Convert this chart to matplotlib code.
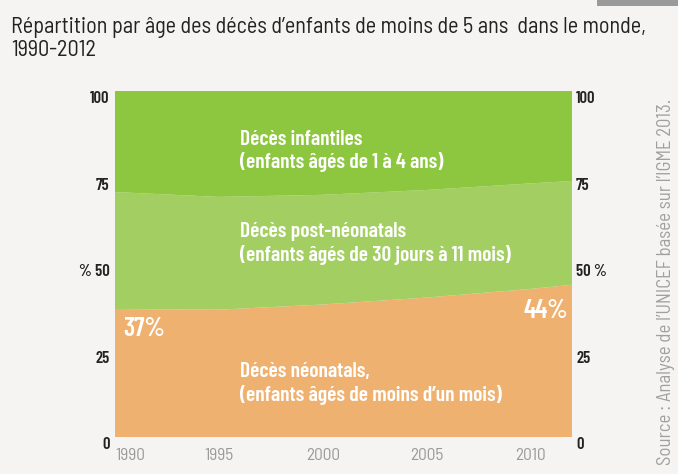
import matplotlib.pyplot as plt
from matplotlib.patches import Rectangle

plt.rcParams['font.family'] = ['Barlow Condensed', 'DejaVu Sans']
semi = ['Barlow Semi Condensed', 'DejaVu Sans']

years = [1990, 1995, 2000, 2005, 2010, 2012]
neonatal = [37.0, 36.8, 38.3, 40.3, 42.8, 44.0]
post_neonatal = [33.8, 32.6, 31.7, 31.1, 30.5, 30.0]
infant = [29.2, 30.6, 30.0, 28.6, 26.7, 26.0]

yticks = [0, 25, 50, 75, 100]
left_labels = ['0', '25', '% 50', '75', '100']
right_labels = ['0', '25', '50 %', '75', '100']
xticks = [1990, 1995, 2000, 2005, 2010]

colors = ['#efb170', '#a3cf62', '#8dc63f']
bg = '#f5f4f2'

fig = plt.figure(figsize=(6.78, 4.74), dpi=100, facecolor=bg)
ax = fig.add_axes([0.1696, 0.078, 0.674, 0.730])
ax.set_facecolor(bg)
ax.stackplot(years, neonatal, post_neonatal, infant, colors=colors, linewidth=0)
ax.set_xlim(1990, 2012)
ax.set_ylim(0, 100)

for s in ax.spines.values():
    s.set_visible(False)

ax.set_yticks(yticks)
ax.set_yticklabels(left_labels, fontsize=12, fontweight='semibold', color='#222222')
ax.tick_params(axis='y', length=0, pad=4)
for t in ax.get_yticklabels():
    t.set_verticalalignment('top')

ax2 = ax.twinx()
ax2.set_ylim(0, 100)
ax2.set_yticks(yticks)
ax2.set_yticklabels(right_labels, fontsize=12, fontweight='semibold', color='#222222')
ax2.tick_params(axis='y', length=0, pad=3)
for t in ax2.get_yticklabels():
    t.set_verticalalignment('top')
for s in ax2.spines.values():
    s.set_visible(False)

ax.set_xticks(xticks)
ax.set_xticklabels([str(x) for x in xticks], fontsize=12.5, color='#9a9a9a', family=semi)
ax.tick_params(axis='x', length=0, pad=8)
ax.get_xticklabels()[0].set_horizontalalignment('left')

txt = dict(color='white', fontweight='semibold', fontsize=15.5, ha='left', va='center')
ax.text(1996.0, 86.0, 'Décès infantiles', **txt)
ax.text(1996.0, 79.4, '(enfants âgés de 1 à 4 ans)', **txt)
ax.text(1996.0, 59.3, 'Décès post-néonatals', **txt)
ax.text(1996.0, 52.5, '(enfants âgés de 30 jours à 11 mois)', **txt)
ax.text(1996.0, 18.8, 'Décès néonatals,', **txt)
ax.text(1996.0, 12.2, '(enfants âgés de moins d\u2019un mois)', **txt)

ax.text(1990.4, 31.3, '37%', color='white', fontweight='semibold', fontsize=19, ha='left', va='center')
ax.text(2011.8, 36.4, '44%', color='white', fontweight='semibold', fontsize=19, ha='right', va='center')

fig.text(0.016, 0.917, 'Répartition par âge des décès d\u2019enfants de moins de 5 ans  dans le monde,\n1990-2012',
         fontsize=16, color='#222222', ha='left', va='center', linespacing=1.12, family=semi)

fig.text(0.983, 0.406, 'Source : Analyse de l\u2019UNICEF basée sur l\u2019IGME 2013.',
         rotation=90, fontsize=13.5, color='#a0a0a0', ha='center', va='center', family=semi)

fig.patches.append(Rectangle((0.88, 0.987), 0.12, 0.013, transform=fig.transFigure,
                             facecolor='#9a9a9a', edgecolor='none'))

fig.savefig('out.png', dpi=100, facecolor=bg)
